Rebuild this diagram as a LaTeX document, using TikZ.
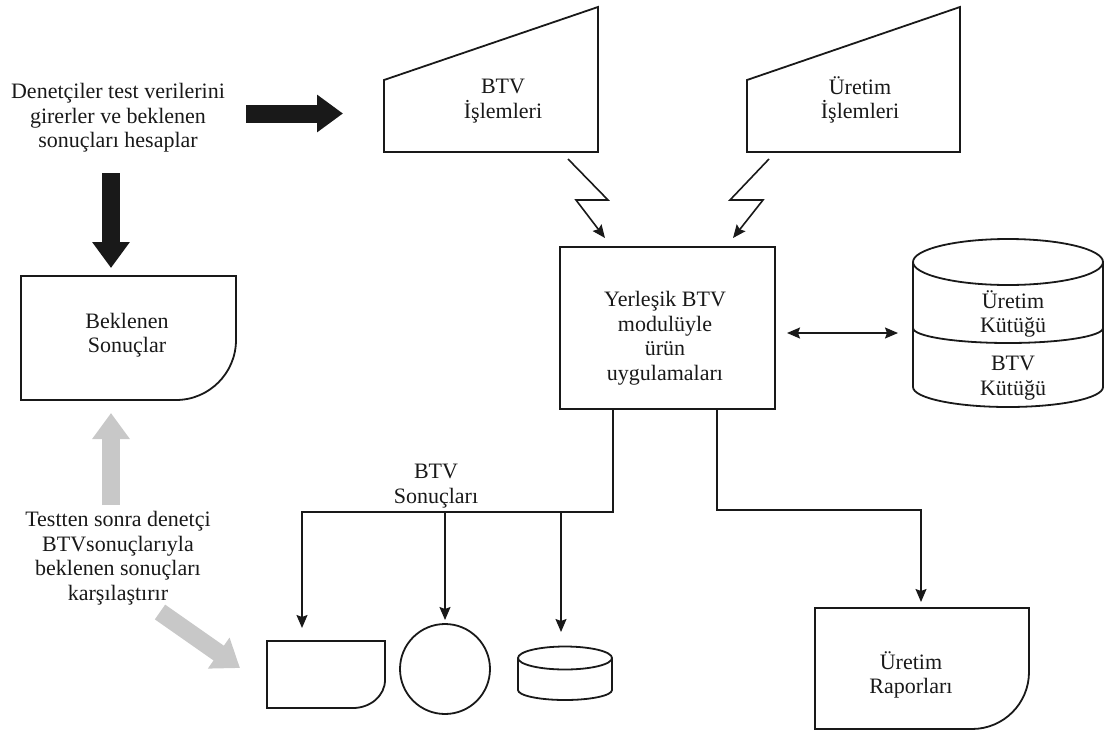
\documentclass[tikz,border=0pt]{standalone}
\usepackage{fontspec}
\setmainfont{Liberation Serif}
\usetikzlibrary{arrows.meta}
\definecolor{ink}{RGB}{25,25,25}
\definecolor{paleink}{RGB}{200,200,200}

\begin{document}
\begin{tikzpicture}[x=1pt,y=-1pt,
  outline/.style={draw=ink, line width=1.8pt, line join=miter},
  conn/.style={draw=ink, line width=1.6pt, line join=miter,
    -{Stealth[length=13pt,width=11pt,inset=2pt]}},
  biconn/.style={draw=ink, line width=1.6pt,
    {Stealth[length=13pt,width=11pt,inset=2pt]}-{Stealth[length=13pt,width=11pt,inset=2pt]}},
  block/.style={line width=18pt, -{Triangle[length=26pt,width=36pt]}},
  darkblock/.style={block, draw=ink},
  paleblock/.style={block, draw=paleink},
  txt/.style={font=\fontsize{22}{24.5}\selectfont, align=center, inner sep=0pt, text=ink},
]
\useasboundingbox (0,0) rectangle (1105,731);

% ---------- left column: notes and block arrows ----------
\node[txt] (enter) at (118,118) {Denetçiler test verilerini\\girerler ve beklenen\\sonuçları hesaplar};
\node[txt] (compare) at (118,558) {Testten sonra denetçi\\BTVsonuçlarıyla\\beklenen sonuçları\\karşılaştırır};

% expected results (document shape)
\draw[outline] (21,276) -- (236,276) -- (236,340) arc (0:90:60) -- (21,400) -- cycle;
\node[txt] (expected) at (127,335) {Beklenen\\Sonuçlar};

\coordinate (r0) at (246,113.5);
\coordinate (r1) at (343,113.5);
\coordinate (d0) at (111,173);
\coordinate (d1) at (111,268);
\coordinate (u0) at (111,505);
\coordinate (u1) at (111,413);
\coordinate (g0) at (160,612);
\coordinate (g1) at (240,668);
\draw[darkblock] (r0) -- (r1);
\draw[darkblock] (d0) -- (d1);
\draw[paleblock] (u0) -- (u1);
\draw[paleblock] (g0) -- (g1);

% ---------- manual input trapezoids ----------
\draw[outline] (384,80) -- (598,7) -- (598,152) -- (384,152) -- cycle;
\node[txt] (btvin) at (503,101) {BTV\\İşlemleri};
\draw[outline] (747,80) -- (960,7) -- (960,152) -- (747,152) -- cycle;
\node[txt] (prodin) at (860,100) {Üretim\\İşlemleri};

% ---------- application box ----------
\node[outline, minimum width=215pt, minimum height=162pt, inner sep=0pt] (app) at (667.5,328) {};
\node[txt] (applbl) at (665,338) {Yerleşik BTV\\modulüyle\\ürün\\uygulamaları};

% communication links (lightning)
\coordinate (la) at (568,159);
\coordinate (lb) at (608,200);
\coordinate (lc) at (576,200);
\coordinate (ld) at (605,238);
\coordinate (ra) at (769,159);
\coordinate (rb) at (730,200);
\coordinate (rc) at (763,200);
\coordinate (rd) at (733,238);
\draw[conn] (la) -- (lb) -- (lc) -- (ld);
\draw[conn] (ra) -- (rb) -- (rc) -- (rd);

% ---------- master file cylinder ----------
\draw[outline] (1008,262) ellipse (95 and 23);
\draw[outline] (913,262) -- (913,387) arc (180:0:95 and 20) -- (1103,262);
\draw[outline] (913,328) arc (180:0:95 and 15);
\node[txt] (prodfile) at (1013,314) {Üretim\\Kütüğü};
\node[txt] (btvfile) at (1013,378) {BTV\\Kütüğü};

\coordinate (x0) at (787,333);
\coordinate (x1) at (898,333);
\draw[biconn] (x0) -- (x1);

% ---------- BTV results branch ----------
\coordinate (b0) at (613,409);
\coordinate (b1) at (613,512);
\coordinate (b2) at (302,512);
\coordinate (b3) at (302,628);
\coordinate (c0) at (445,512);
\coordinate (c1) at (445,620);
\coordinate (e0) at (561,512);
\coordinate (e1) at (561,632);
\draw[conn] (b0) -- (b1) -- (b2) -- (b3);
\draw[conn] (c0) -- (c1);
\draw[conn] (e0) -- (e1);
\node[txt] (btvres) at (436,486) {BTV\\Sonuçları};

% document, disk and drum outputs
\draw[outline] (267,641) -- (385,641) -- (385,680) arc (0:90:32 and 28) -- (267,708) -- cycle;
\draw[outline] (445,669) circle (45);
\draw[outline] (565,658) ellipse (47 and 11.5);
\draw[outline] (518,658) -- (518,690) arc (180:0:47 and 10) -- (612,658);

% ---------- production reports branch ----------
\coordinate (p0) at (717,409);
\coordinate (p1) at (717,510);
\coordinate (p2) at (921,510);
\coordinate (p3) at (921,602);
\draw[conn] (p0) -- (p1) -- (p2) -- (p3);
\draw[outline] (815,608) -- (1029,608) -- (1029,672) arc (0:90:57 and 57) -- (815,729) -- cycle;
\node[txt] (reports) at (911,675) {Üretim\\Raporları};

\end{tikzpicture}
\end{document}
